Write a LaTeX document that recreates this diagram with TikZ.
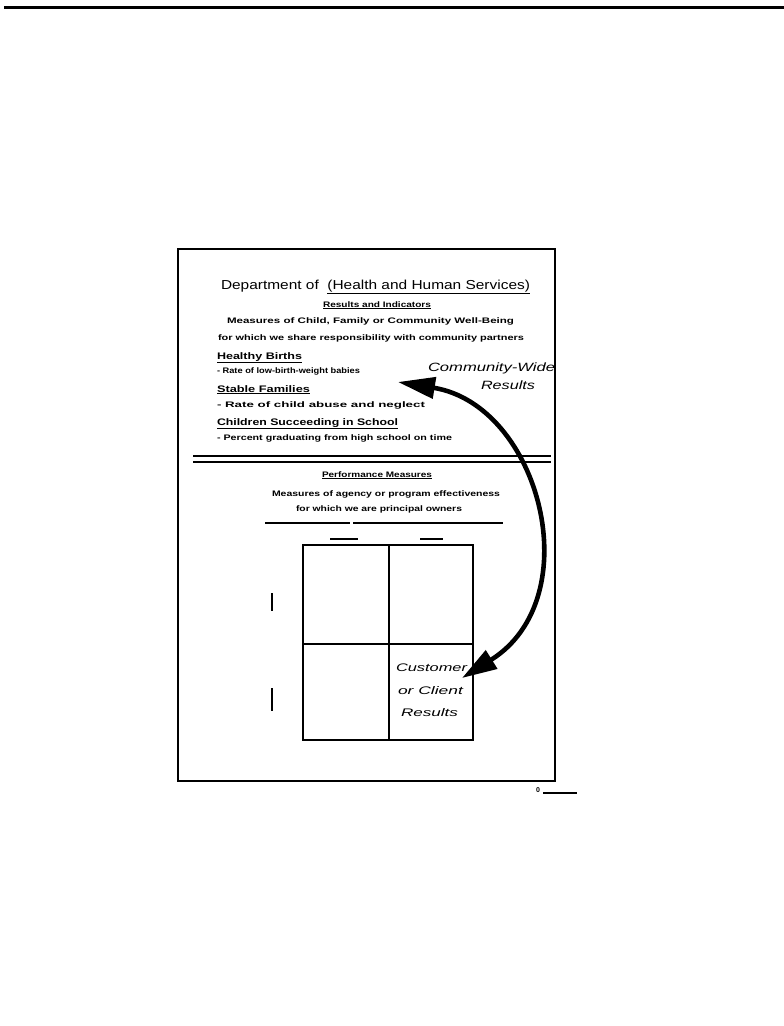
\documentclass[tikz,border=0pt]{standalone}
\usepackage{fontspec}
\usepackage{graphicx}
\setmainfont{Liberation Sans}
\usetikzlibrary{arrows.meta}
\newcommand{\fitw}[2]{\resizebox{#1}{\height}{#2}}
\tikzset{
  txt/.style={anchor=base west, inner sep=0pt, outer sep=0pt, text=black},
  small/.style={txt, font=\fontsize{8}{9}\selectfont\bfseries},
  head/.style={txt, font=\fontsize{9.5}{11}\selectfont\bfseries},
  ital/.style={txt, font=\fontsize{12}{14}\selectfont\itshape},
  frameline/.style={line width=2.2pt},
  thin/.style={line width=1.4pt},
  bigarrow/.style={line width=4.6pt, {Triangle[length=37pt,width=21pt]}-{Triangle[length=35pt,width=21pt]}}
}
\begin{document}
\begin{tikzpicture}[x=1pt,y=-1pt]
\useasboundingbox (0,0) rectangle (784,1026);
% top rule
\draw[line width=3pt] (4,7) -- (784,7);
% page frame
\draw[frameline] (178,249) rectangle (555,781);
% title
\node[txt, font=\fontsize{13}{15}\selectfont] (title) at (221,289) {\fitw{309pt}{Department of \ \underline{(Health and Human Services)}}};
\node[small] (resind) at (323,307) {\fitw{108pt}{\underline{Results and Indicators}}};
\node[small] (meas1) at (227,323) {\fitw{287pt}{Measures of Child, Family or Community Well-Being}};
\node[small] (forwhich1) at (218,340) {\fitw{306pt}{for which we share responsibility with community partners}};
% items
\node[head] (hb) at (217,359) {\fitw{85pt}{\underline{Healthy Births}}};
\node[small] (hbi) at (217,373) {\fitw{143pt}{- Rate of low-birth-weight babies}};
\node[head] (sf) at (217,392) {\fitw{93pt}{\underline{Stable Families}}};
\node[small] (sfi) at (217,407) {\fitw{208pt}{- Rate of child abuse and neglect}};
\node[head] (cs) at (217,425) {\fitw{181pt}{\underline{Children Succeeding in School}}};
\node[small] (csi) at (217,440) {\fitw{235pt}{- Percent graduating from high school on time}};
% double rule
\draw[thin] (193,456) -- (551,456);
\draw[thin] (193,462) -- (551,462);
% performance measures
\node[small] (perf) at (322,477) {\fitw{110pt}{\underline{Performance Measures}}};
\node[small] (meas2) at (272,496) {\fitw{228pt}{Measures of agency or program effectiveness}};
\node[small] (forwhich2) at (296,511) {\fitw{166pt}{for which we are principal owners}};
% blank lines
\draw[thin] (265,523) -- (350,523);
\draw[thin] (353,523) -- (503,523);
\draw[thin] (330,539) -- (358,539);
\draw[thin] (420,539) -- (443,539);
% grid
\draw[thin] (303,545) rectangle (473,740);
\draw[thin] (389,545) -- (389,740);
\draw[thin] (303,644) -- (473,644);
\draw[thin] (272,593) -- (272,611);
\draw[thin] (272,688) -- (272,711);
% labels
\node[ital] (cw1) at (428,371) {\fitw{127pt}{Community-Wide}};
\node[ital] (cw2) at (481,389) {\fitw{54pt}{Results}};
\node[ital, font=\fontsize{11}{13}\selectfont\itshape] (cust1) at (396,671) {\fitw{71pt}{Customer}};
\node[ital, font=\fontsize{11}{13}\selectfont\itshape] (cust2) at (398,694) {\fitw{65pt}{or Client}};
\node[ital, font=\fontsize{11}{13}\selectfont\itshape] (cust3) at (401,716) {\fitw{57pt}{Results}};
% arrow
\coordinate (arrTop) at (398,382);
\coordinate (arrBot) at (462,678);
\coordinate (c1) at (540,405);
\coordinate (c2) at (590,598);
\draw[bigarrow] (arrTop) .. controls (c1) and (c2) .. (arrBot);
% page number
\node[txt, font=\fontsize{7}{8}\selectfont\bfseries] (pnum) at (536,792) {0};
\coordinate (pl) at (543,793);
\coordinate (pr) at (577,793);
\draw[line width=1.5pt] (pl) -- (pr);
\end{tikzpicture}
\end{document}
